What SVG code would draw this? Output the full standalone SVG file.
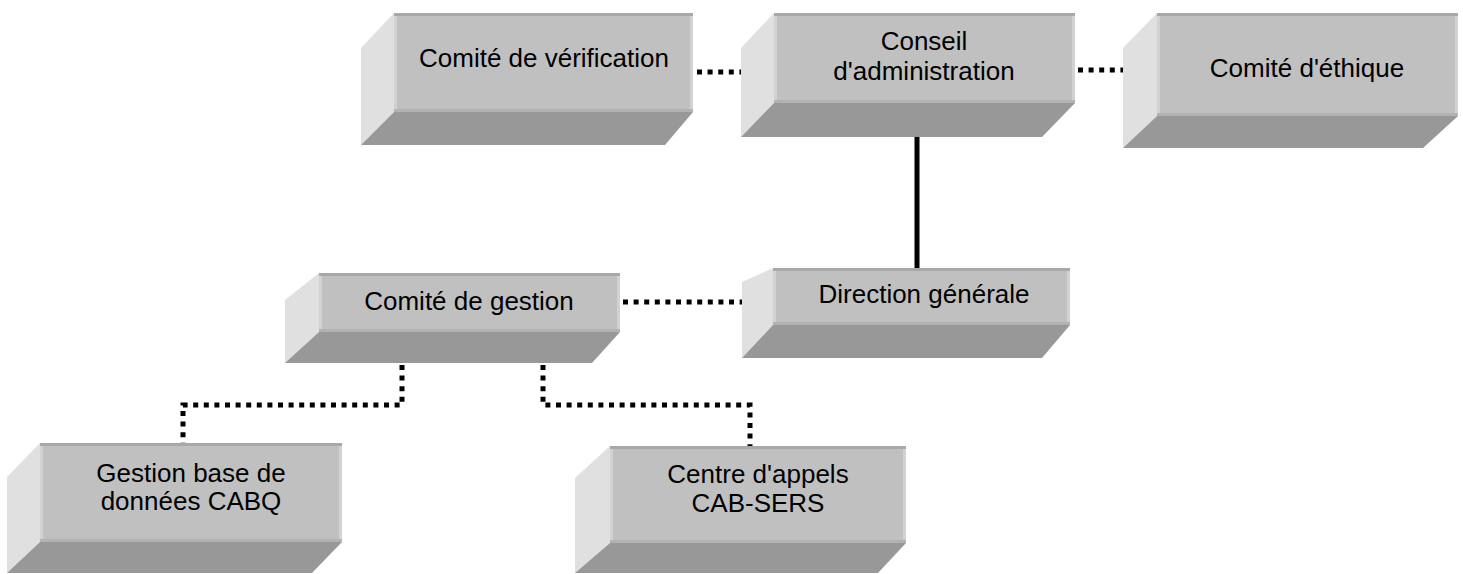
<svg xmlns="http://www.w3.org/2000/svg" width="1463" height="574" viewBox="0 0 1463 574">
<style>
.front{fill:#c0c0c0}
.ftop{fill:#a8a8a8}
.fedge{fill:#d2d2d2}
.fbot{fill:#b2b2b2}
.side{fill:#e0e0e0}
.bottom{fill:#989898}
.lbl{font-family:"Liberation Sans",Arial,sans-serif;font-size:26px;fill:#000;text-anchor:middle}
.dot{fill:none;stroke:#000;stroke-width:5;stroke-dasharray:5 5.6}
.solid{fill:none;stroke:#000;stroke-width:5}
</style>
<rect width="1463" height="574" fill="#fff"/>
<g id="connectors">
<line class="dot" x1="697" y1="72" x2="768" y2="72"/>
<line class="dot" x1="1078" y1="70" x2="1145" y2="70"/>
<line class="solid" x1="917" y1="137" x2="917" y2="268"/>
<line class="dot" x1="623" y1="302" x2="752" y2="302"/>
<polyline class="dot" points="402,365 402,405 183,405 183,443"/>
<polyline class="dot" points="543,365 543,405 750,405 750,446"/>
</g>
<g id="n1">
<polygon class="side" points="361,48 394,13 394,112 361,145"/>
<polygon class="bottom" points="361,145 394,112 693,112 665,145"/>
<rect class="front" x="394" y="13" width="299" height="99"/>
<rect class="ftop" x="394" y="13" width="299" height="3"/>
<rect class="fedge" x="394" y="16" width="3" height="96"/>
<rect class="fedge" x="690" y="16" width="3" height="96"/>
<rect class="fbot" x="394" y="109" width="299" height="3"/>
<text class="lbl" x="544" y="67">Comité de vérification</text>
</g>
<g id="n2">
<polygon class="side" points="741,48 774,13 774,103 741,137"/>
<polygon class="bottom" points="741,137 774,103 1075,103 1042,137"/>
<rect class="front" x="774" y="13" width="301" height="90"/>
<rect class="ftop" x="774" y="13" width="301" height="3"/>
<rect class="fedge" x="774" y="16" width="3" height="87"/>
<rect class="fedge" x="1072" y="16" width="3" height="87"/>
<rect class="fbot" x="774" y="100" width="301" height="3"/>
<text class="lbl" x="924" y="50">Conseil</text>
<text class="lbl" x="924" y="80">d'administration</text>
</g>
<g id="n3">
<polygon class="side" points="1123,48 1157,13 1157,116 1123,148"/>
<polygon class="bottom" points="1123,148 1157,116 1458,116 1423,148"/>
<rect class="front" x="1157" y="13" width="301" height="103"/>
<rect class="ftop" x="1157" y="13" width="301" height="3"/>
<rect class="fedge" x="1157" y="16" width="3" height="100"/>
<rect class="fedge" x="1455" y="16" width="3" height="100"/>
<rect class="fbot" x="1157" y="113" width="301" height="3"/>
<text class="lbl" x="1307" y="77">Comité d'éthique</text>
</g>
<g id="n4">
<polygon class="side" points="285,300 319,273 319,332 285,363"/>
<polygon class="bottom" points="285,363 319,332 620,332 592,363"/>
<rect class="front" x="319" y="273" width="301" height="59"/>
<rect class="ftop" x="319" y="273" width="301" height="3"/>
<rect class="fedge" x="319" y="276" width="3" height="56"/>
<rect class="fedge" x="617" y="276" width="3" height="56"/>
<rect class="fbot" x="319" y="329" width="301" height="3"/>
<text class="lbl" x="469" y="310">Comité de gestion</text>
</g>
<g id="n5">
<polygon class="side" points="742,282 773,268 773,325 742,358"/>
<polygon class="bottom" points="742,358 773,325 1070,325 1042,358"/>
<rect class="front" x="773" y="268" width="297" height="57"/>
<rect class="ftop" x="773" y="268" width="297" height="3"/>
<rect class="fedge" x="773" y="271" width="3" height="54"/>
<rect class="fedge" x="1067" y="271" width="3" height="54"/>
<rect class="fbot" x="773" y="322" width="297" height="3"/>
<text class="lbl" x="924" y="303">Direction générale</text>
</g>
<g id="n6">
<polygon class="side" points="7,477 40,443 40,542 7,573"/>
<polygon class="bottom" points="7,573 40,542 342,542 312,573"/>
<rect class="front" x="40" y="443" width="302" height="99"/>
<rect class="ftop" x="40" y="443" width="302" height="3"/>
<rect class="fedge" x="40" y="446" width="3" height="96"/>
<rect class="fedge" x="339" y="446" width="3" height="96"/>
<rect class="fbot" x="40" y="539" width="302" height="3"/>
<text class="lbl" x="191" y="482">Gestion base de</text>
<text class="lbl" x="191" y="510">données CABQ</text>
</g>
<g id="n7">
<polygon class="side" points="575,478 610,446 610,543 575,573"/>
<polygon class="bottom" points="575,573 610,543 906,543 878,573"/>
<rect class="front" x="610" y="446" width="296" height="97"/>
<rect class="ftop" x="610" y="446" width="296" height="3"/>
<rect class="fedge" x="610" y="449" width="3" height="94"/>
<rect class="fedge" x="903" y="449" width="3" height="94"/>
<rect class="fbot" x="610" y="540" width="296" height="3"/>
<text class="lbl" x="758" y="483">Centre d'appels</text>
<text class="lbl" x="758" y="512">CAB-SERS</text>
</g>
</svg>
